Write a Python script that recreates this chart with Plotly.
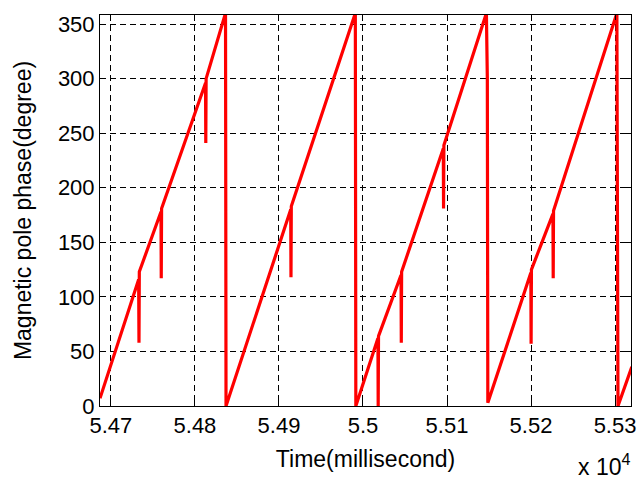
import plotly.graph_objects as go

# Vertices of the phase trace (time in milliseconds, phase in degrees)
time_ms = [
    54687.0, 54733.0, 54733.4, 54733.8, 54759.6, 54759.9, 54760.3,
    54812.6, 54812.9, 54813.3, 54836.4, 54837.0,
    54914.0, 54914.3, 54914.7, 54990.9, 54991.5,
    55017.8, 55018.1, 55018.5, 55045.3, 55045.6, 55046.0,
    55095.6, 55095.9, 55096.3, 55146.9, 55148.0, 55148.6,
    55199.8, 55200.1, 55200.5, 55226.1, 55226.4, 55226.8,
    55302.2, 55303.5, 55320.0,
]
phase_deg = [
    7, 116, 58, 123, 178, 117, 181,
    296, 241, 300, 360, 0,
    180, 118, 183, 360, 0,
    62, 0, 64, 120, 58, 123,
    236, 181, 239, 360, 300, 3,
    122, 57, 125, 176, 117, 179,
    360, 0, 36,
]

x_tickvals = [54700, 54800, 54900, 55000, 55100, 55200, 55300]
x_ticktext = ["5.47", "5.48", "5.49", "5.5", "5.51", "5.52", "5.53"]
y_tickvals = [0, 50, 100, 150, 200, 250, 300, 350]

FONT = "Liberation Sans, Arial, sans-serif"

fig = go.Figure()
fig.add_trace(go.Scatter(
    x=time_ms, y=phase_deg, mode="lines",
    line=dict(color="#FF0000", width=3.2),
    showlegend=False,
))

axis_common = dict(
    showline=True, linecolor="black", linewidth=1, mirror="ticks",
    ticks="inside", ticklen=5, tickcolor="black", tickwidth=1,
    showgrid=True, gridcolor="black", gridwidth=1, griddash="6px,4px",
    zeroline=False,
    tickfont=dict(family=FONT, size=22, color="black"),
)

fig.update_xaxes(
    range=[54687, 55319],
    tickvals=x_tickvals, ticktext=x_ticktext,
    title=dict(text="Time(millisecond)", font=dict(family=FONT, size=23, color="black"), standoff=13),
    **axis_common,
)
fig.update_yaxes(
    range=[0, 358.3],
    tickvals=y_tickvals,
    title=dict(text="Magnetic pole phase(degree)", font=dict(family=FONT, size=23, color="black"), standoff=19),
    **axis_common,
)

fig.add_annotation(
    text="x 10<sup>4</sup>", xref="paper", yref="paper",
    x=0.897, y=-0.151, xanchor="left", yanchor="middle", showarrow=False,
    font=dict(family=FONT, size=23, color="black"),
)

fig.update_layout(
    width=644, height=479,
    margin=dict(l=100, r=8, t=15, b=73),
    paper_bgcolor="white", plot_bgcolor="white",
)

fig.write_html("out.html")
